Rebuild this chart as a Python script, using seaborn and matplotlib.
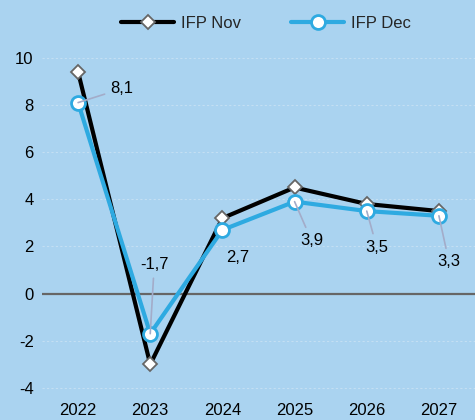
import seaborn as sns
import pandas as pd
import matplotlib.pyplot as plt

# data
years = ["2022", "2023", "2024", "2025", "2026", "2027"]
ifp_nov = [9.4, -3.0, 3.2, 4.5, 3.8, 3.5]
ifp_dec = [8.1, -1.7, 2.7, 3.9, 3.5, 3.3]
dec_labels = ["8,1", "-1,7", "2,7", "3,9", "3,5", "3,3"]

# label offsets (pixels) and whether a leader line is drawn
label_offsets = [(44, 14), (4, 69), (15, -28), (17, -39), (10, -36), (10, -46)]
label_leaders = [True, True, False, True, True, True]

bg = "#aad3f0"
blue = "#2eaae1"

sns.set_theme(style="white")
plt.rcParams["font.family"] = ["Liberation Sans", "DejaVu Sans"]
plt.rcParams["axes.unicode_minus"] = False

df = pd.DataFrame({"year": years * 2,
                   "value": ifp_nov + ifp_dec,
                   "series": ["IFP Nov"] * 6 + ["IFP Dec"] * 6})

fig = plt.figure(figsize=(4.75, 4.2), dpi=100, facecolor=bg)
ax = fig.add_axes([0.0884, 0.0595, 0.9116, 0.845])
ax.set_facecolor(bg)

sns.lineplot(data=df[df.series == "IFP Nov"], x="year", y="value",
             color="black", linewidth=3, marker="D", markersize=7,
             markerfacecolor="white", markeredgecolor="#666666",
             markeredgewidth=1.3, label="IFP Nov", ax=ax, zorder=3)
sns.lineplot(data=df[df.series == "IFP Dec"], x="year", y="value",
             color=blue, linewidth=3, marker="o", markersize=10,
             markerfacecolor="white", markeredgecolor=blue,
             markeredgewidth=2, label="IFP Dec", ax=ax, zorder=4)

ax.axhline(0, color="#666666", linewidth=1.6, zorder=2)

for i, (v, lab) in enumerate(zip(ifp_dec, dec_labels)):
    dx, dy = label_offsets[i]
    ax.annotate(lab, xy=(i, v), xytext=(dx, dy), textcoords="offset pixels",
                ha="center", va="center", fontsize=12, color="black",
                arrowprops=dict(arrowstyle="-", color="#a3acc9", lw=1.2,
                                shrinkA=2, shrinkB=0) if label_leaders[i] else None,
                zorder=5)

ax.set_xlim(-0.5, 5.5)
ax.set_ylim(-4.3, 10.75)
ax.set_yticks([-4, -2, 0, 2, 4, 6, 8, 10])
ax.yaxis.grid(True, color="#c3dff3", linestyle=(0, (2, 2)), linewidth=0.8)
ax.set_axisbelow(True)
ax.tick_params(axis="both", labelsize=12, colors="black", length=0, pad=6)
ax.set_xlabel("")
ax.set_ylabel("")
for s in ax.spines.values():
    s.set_visible(False)

ax.get_legend().remove()
fig.legend(*ax.get_legend_handles_labels(), loc="center",
           bbox_to_anchor=(0.56, 0.945), ncol=2, frameon=False,
           fontsize=12, handlelength=3.2, handletextpad=0.4,
           columnspacing=3.0)

fig.savefig("out.png", dpi=100, facecolor=bg)
